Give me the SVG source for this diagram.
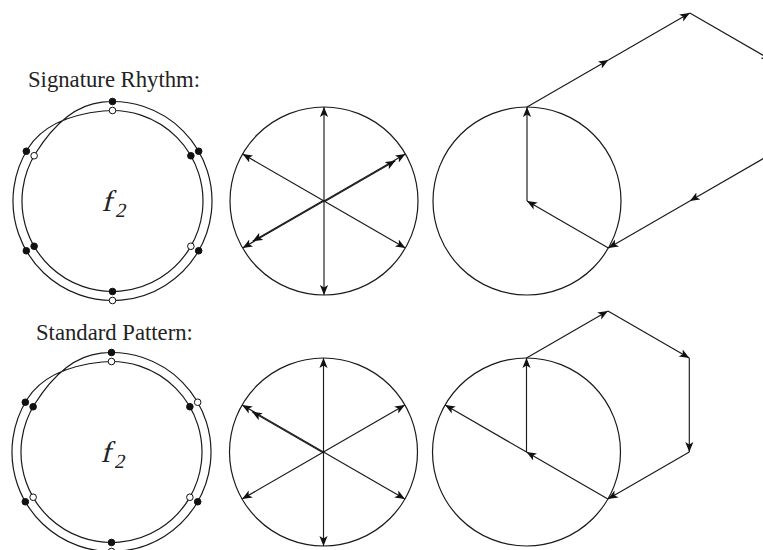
<svg xmlns="http://www.w3.org/2000/svg" xmlns:xlink="http://www.w3.org/1999/xlink" width="763" height="550" viewBox="0 0 763 550">
  <style>
    .ring { fill: none; stroke: #1a1a1a; stroke-width: 1.2; }
    .vec { fill: none; stroke: #1a1a1a; stroke-width: 1.15; marker-end: url(#ah); }
    .on { fill: #111; stroke: #111; stroke-width: 1; }
    .off { fill: #fff; stroke: #111; stroke-width: 1; }
    .lbl { font-family: "Liberation Serif", "Times New Roman", serif; font-size: 22.7px; fill: #222; }
    .fn { font-family: "Liberation Serif", "Times New Roman", serif; font-size: 30px; fill: #222; }
  </style>
  <defs>
    <marker id="ah" viewBox="0 0 10 9" refX="10" refY="4.5" markerWidth="10" markerHeight="9" markerUnits="userSpaceOnUse" orient="auto">
      <path d="M0,0.4 L10,4.5 L0,8.6 L2.5,4.5 Z" fill="#111"/>
    </marker>
    <path id="loop" class="ring" d="M-10.40,-98.95 A99.5,99.5 0 1 1 -84.38,-52.73 C-68.91,-77.49 -38.50,-86.95 -9.46,-90.00 A90.5,90.5 0 1 1 -76.75,-47.96 C-61.28,-72.72 -39.44,-95.90 -10.40,-98.95 Z"/>
  </defs>

  <!-- Labels -->
  <text id="label-signature" class="lbl" x="28" y="87">Signature Rhythm:</text>
  <text id="label-standard" class="lbl" x="36" y="340">Standard Pattern:</text>

  <!-- Top row: signature rhythm loop -->
  <g id="loop-signature" transform="translate(112.5,201)">
    <use xlink:href="#loop"/>
    <circle class="on" cx="0" cy="-99.5" r="3.3"/>
    <circle class="off" cx="0" cy="-90.5" r="3.3"/>
    <circle class="on" cx="86.17" cy="-49.75" r="3.3"/>
    <circle class="on" cx="78.37" cy="-45.25" r="3.3"/>
    <circle class="on" cx="86.17" cy="49.75" r="3.3"/>
    <circle class="off" cx="78.37" cy="45.25" r="3.3"/>
    <circle class="off" cx="0" cy="99.5" r="3.3"/>
    <circle class="on" cx="0" cy="90.5" r="3.3"/>
    <circle class="on" cx="-86.17" cy="49.75" r="3.3"/>
    <circle class="on" cx="-78.37" cy="45.25" r="3.3"/>
    <circle class="on" cx="-86.17" cy="-49.75" r="3.3"/>
    <circle class="off" cx="-78.37" cy="-45.25" r="3.3"/>
    <text class="fn" transform="translate(-11,10) skewX(-14)">f<tspan x="15" y="6" font-size="20">2</tspan></text>
  </g>

  <!-- Bottom row: standard pattern loop -->
  <g id="loop-standard" transform="translate(111.5,452)">
    <use xlink:href="#loop"/>
    <circle class="on" cx="0" cy="-99.5" r="3.3"/>
    <circle class="off" cx="0" cy="-90.5" r="3.3"/>
    <circle class="off" cx="86.17" cy="-49.75" r="3.3"/>
    <circle class="on" cx="78.37" cy="-45.25" r="3.3"/>
    <circle class="on" cx="86.17" cy="49.75" r="3.3"/>
    <circle class="off" cx="78.37" cy="45.25" r="3.3"/>
    <circle class="off" cx="0" cy="99.5" r="3.3"/>
    <circle class="on" cx="0" cy="90.5" r="3.3"/>
    <circle class="on" cx="-86.17" cy="49.75" r="3.3"/>
    <circle class="off" cx="-78.37" cy="45.25" r="3.3"/>
    <circle class="on" cx="-86.17" cy="-49.75" r="3.3"/>
    <circle class="on" cx="-78.37" cy="-45.25" r="3.3"/>
    <text class="fn" transform="translate(-11,10) skewX(-14)">f<tspan x="15" y="6" font-size="20">2</tspan></text>
  </g>

  <!-- Circles -->
  <g id="wheel-signature"><circle class="ring" cx="324" cy="201" r="94"/></g>
  <g id="chain-signature-circle"><circle class="ring" cx="527" cy="201" r="94"/></g>
  <g id="wheel-standard"><circle class="ring" cx="323.5" cy="452" r="94"/></g>
  <g id="chain-standard-circle"><circle class="ring" cx="526.5" cy="452" r="94"/></g>

  <!-- Connectors (vectors) -->
  <g id="connectors">
    <!-- top middle wheel -->
    <line class="vec" x1="324" y1="201" x2="324" y2="107"/>
    <line class="vec" x1="324" y1="201" x2="405.4" y2="154"/>
    <line class="vec" x1="324.4" y1="201.7" x2="395.4" y2="160.7"/>
    <line class="vec" x1="324" y1="201" x2="405.4" y2="248"/>
    <line class="vec" x1="324" y1="201" x2="324" y2="295"/>
    <line class="vec" x1="324" y1="201" x2="242.6" y2="248"/>
    <line class="vec" x1="323.6" y1="200.3" x2="252.6" y2="241.3"/>
    <line class="vec" x1="324" y1="201" x2="242.6" y2="154"/>

    <!-- top right chain -->
    <line class="vec" x1="527" y1="201" x2="527" y2="107"/>
    <line class="vec" x1="527" y1="107" x2="608.4" y2="60"/>
    <line class="vec" x1="608.4" y1="60" x2="689.8" y2="13"/>
    <line class="vec" x1="689.8" y1="13" x2="771.2" y2="60"/>
    <line class="vec" x1="771.2" y1="60" x2="771.2" y2="154"/>
    <line class="vec" x1="771.2" y1="154" x2="689.8" y2="201"/>
    <line class="vec" x1="689.8" y1="201" x2="608.4" y2="248"/>
    <line class="vec" x1="608.4" y1="248" x2="527" y2="201"/>

    <!-- bottom middle wheel -->
    <line class="vec" x1="323.5" y1="452" x2="323.5" y2="358"/>
    <line class="vec" x1="323.5" y1="452" x2="404.9" y2="405"/>
    <line class="vec" x1="323.5" y1="452" x2="404.9" y2="499"/>
    <line class="vec" x1="323.5" y1="452" x2="323.5" y2="546"/>
    <line class="vec" x1="323.5" y1="452" x2="242.1" y2="499"/>
    <line class="vec" x1="323.5" y1="452" x2="242.1" y2="405"/>
    <line class="vec" x1="323.1" y1="452.7" x2="252.1" y2="411.7"/>

    <!-- bottom right chain -->
    <line class="vec" x1="526.5" y1="452" x2="526.5" y2="358"/>
    <line class="vec" x1="526.5" y1="358" x2="607.9" y2="311"/>
    <line class="vec" x1="607.9" y1="311" x2="689.3" y2="358"/>
    <line class="vec" x1="689.3" y1="358" x2="689.3" y2="452"/>
    <line class="vec" x1="689.3" y1="452" x2="607.9" y2="499"/>
    <line class="vec" x1="607.9" y1="499" x2="526.5" y2="452"/>
    <line class="vec" x1="526.5" y1="452" x2="445.1" y2="405"/>
  </g>
</svg>
